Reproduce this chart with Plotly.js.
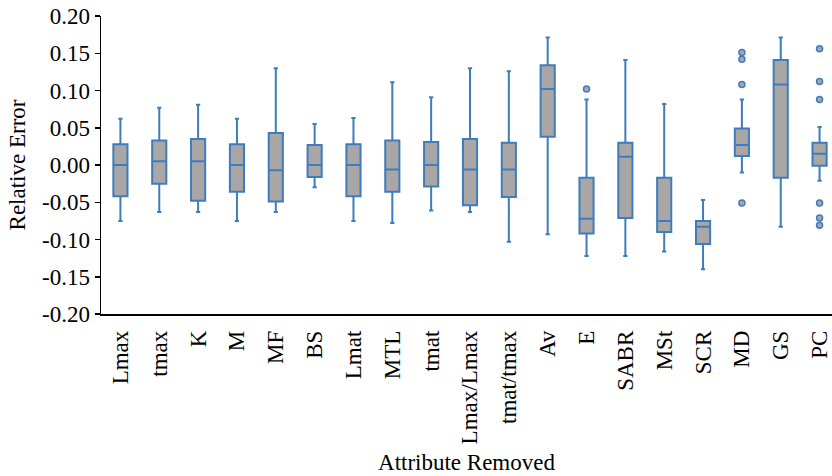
<!DOCTYPE html>
<html>
<head>
<meta charset="utf-8">
<script src="https://cdn.plot.ly/plotly-3.0.1.min.js"></script>
<style>html,body{margin:0;padding:0;background:#fff;}#chart{width:832px;height:476px;}</style>
</head>
<body>
<div id="chart"></div>
<script>
var categories = ["Lmax","tmax","K","M","MF","BS","Lmat","MTL","tmat","Lmax/Lmax","tmat/tmax","Av","E","SABR","MSt","SCR","MD","GS","PC"];
var lowerWhisker = [-0.075,-0.063,-0.063,-0.075,-0.063,-0.030,-0.075,-0.078,-0.061,-0.063,-0.103,-0.093,-0.122,-0.122,-0.116,-0.140,-0.010,-0.083,-0.021];
var q1Values     = [-0.042,-0.025,-0.048,-0.036,-0.049,-0.016,-0.042,-0.036,-0.029,-0.054,-0.043,0.038,-0.092,-0.071,-0.090,-0.106,0.012,-0.017,-0.001];
var medianValues = [0.000,0.005,0.005,0.000,-0.007,0.000,0.000,-0.006,0.000,-0.006,-0.006,0.102,-0.072,0.011,-0.075,-0.083,0.027,0.108,0.015];
var q3Values     = [0.028,0.033,0.035,0.028,0.043,0.027,0.028,0.033,0.031,0.035,0.030,0.134,-0.017,0.030,-0.017,-0.075,0.049,0.141,0.030];
var upperWhisker = [0.062,0.077,0.081,0.062,0.130,0.055,0.063,0.111,0.091,0.130,0.126,0.171,0.088,0.141,0.082,-0.047,0.088,0.171,0.051];
var outlierCats  = ["E","MD","MD","MD","MD","PC","PC","PC","PC","PC","PC"];
var outlierVals  = [0.102,0.151,0.142,0.108,-0.051,0.156,0.112,0.088,-0.051,-0.071,-0.081];

var lineBlue = "#3D7DBE";
var fillGray = "#ABA6A6";
var serif = "Liberation Serif, Times New Roman, serif";

var traces = [{
  type: "box",
  x: categories,
  q1: q1Values,
  median: medianValues,
  q3: q3Values,
  lowerfence: lowerWhisker,
  upperfence: upperWhisker,
  fillcolor: fillGray,
  line: {color: lineBlue, width: 2},
  whiskerwidth: 0.3,
  boxpoints: false,
  hoverinfo: "skip",
  showlegend: false
}, {
  type: "scatter",
  mode: "markers",
  x: outlierCats,
  y: outlierVals,
  marker: {color: fillGray, size: 6, line: {color: lineBlue, width: 1.5}},
  hoverinfo: "skip",
  showlegend: false
}];

var layout = {
  width: 832, height: 476,
  margin: {l: 101, r: 0, t: 16, b: 162},
  paper_bgcolor: "#fff", plot_bgcolor: "#fff",
  font: {family: serif, size: 23, color: "#000"},
  boxgap: 0.48,
  xaxis: {
    type: "category",
    categoryorder: "array", categoryarray: categories,
    range: [-0.5, 18.32],
    showline: true, linecolor: "#000", linewidth: 1.5,
    showgrid: false, zeroline: false,
    ticks: "outside", ticklen: 6, tickcolor: "rgba(0,0,0,0)",
    tickangle: -90,
    tickfont: {family: serif, size: 23, color: "#000"},
    title: {text: "Attribute Removed", font: {family: serif, size: 23, color: "#000"}, standoff: 10}
  },
  yaxis: {
    range: [-0.2, 0.2],
    tickvals: [-0.2,-0.15,-0.1,-0.05,0,0.05,0.1,0.15,0.2],
    ticktext: ["-0.20","-0.15","-0.10","-0.05","0.00","0.05","0.10","0.15","0.20"],
    showline: true, linecolor: "#000", linewidth: 1.5,
    showgrid: false, zeroline: false,
    ticks: "outside", ticklen: 5, tickcolor: "#000", tickwidth: 1.5,
    tickfont: {family: serif, size: 23, color: "#000"},
    title: {text: "Relative Error", font: {family: serif, size: 23, color: "#000"}, standoff: 10}
  }
};

Plotly.newPlot("chart", traces, layout, {staticPlot: true, displayModeBar: false});
</script>
</body>
</html>
